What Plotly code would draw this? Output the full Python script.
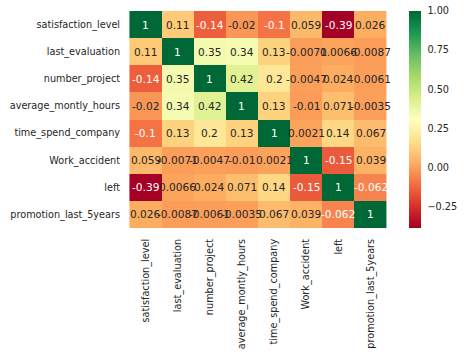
import plotly.graph_objects as go
import numpy as np

labels = ["satisfaction_level", "last_evaluation", "number_project",
          "average_montly_hours", "time_spend_company", "Work_accident",
          "left", "promotion_last_5years"]

row_satisfaction = [1.0, 0.105021, -0.142970, -0.020048, -0.100866, 0.058697, -0.388375, 0.025605]
row_evaluation = [0.105021, 1.0, 0.349333, 0.339742, 0.131591, -0.007104, 0.006567, -0.008684]
row_project = [-0.142970, 0.349333, 1.0, 0.417211, 0.196786, -0.004741, 0.023787, -0.006064]
row_hours = [-0.020048, 0.339742, 0.417211, 1.0, 0.127755, -0.010143, 0.071287, -0.003544]
row_time = [-0.100866, 0.131591, 0.196786, 0.127755, 1.0, 0.002120, 0.144822, 0.067433]
row_accident = [0.058697, -0.007104, -0.004741, -0.010143, 0.002120, 1.0, -0.154622, 0.039245]
row_left = [-0.388375, 0.006567, 0.023787, 0.071287, 0.144822, -0.154622, 1.0, -0.061788]
row_promotion = [0.025605, -0.008684, -0.006064, -0.003544, 0.067433, 0.039245, -0.061788, 1.0]

z = [row_satisfaction, row_evaluation, row_project, row_hours,
     row_time, row_accident, row_left, row_promotion]

cbar_vals = [-0.25, 0.0, 0.25, 0.5, 0.75, 0.9999]
cbar_text = ["\u22120.25", "0.00", "0.25", "0.50", "0.75", "1.00"]

rdylgn = [(165,0,38),(215,48,39),(244,109,67),(253,174,97),(254,224,139),
          (255,255,191),(217,239,139),(166,217,106),(102,189,99),(26,152,80),(0,104,55)]

zarr = np.array(z)
zmin, zmax = zarr.min(), 1.0

def color_at(v):
    t = (v - zmin) / (zmax - zmin) * (len(rdylgn) - 1)
    i = int(min(max(np.floor(t), 0), len(rdylgn) - 2))
    f = t - i
    c0, c1 = np.array(rdylgn[i]), np.array(rdylgn[i+1])
    return (c0 + (c1 - c0) * f) / 255.0

def lum(rgb):
    r = np.where(rgb <= 0.03928, rgb / 12.92, ((rgb + 0.055) / 1.055) ** 2.4)
    return 0.2126 * r[0] + 0.7152 * r[1] + 0.0722 * r[2]

FONT = "DejaVu Sans"
TICK_SIZE = 9.7
ANNOT_SIZE = 10.6

fig = go.Figure()
fig.add_trace(go.Heatmap(
    z=z, x=labels, y=labels, zmin=zmin, zmax=zmax,
    colorscale="RdYlGn",
    colorbar=dict(thickness=12, len=1, lenmode="fraction", y=0.5, yanchor="middle",
                  x=1.06, xanchor="left", outlinewidth=0, xpad=0, ypad=0,
                  tickvals=cbar_vals, ticktext=cbar_text, ticklabeloverflow="allow",
                  ticks="outside", ticklen=5, tickcolor="rgba(0,0,0,0)",
                  tickfont=dict(family=FONT, size=TICK_SIZE, color="#262626")),
    hoverinfo="skip",
))

annotations = []
for i, row in enumerate(z):
    for j, v in enumerate(row):
        col = "white" if lum(color_at(v)) <= 0.408 else "#262626"
        annotations.append(dict(x=labels[j], y=labels[i], text=format(v, ".2g"),
                                showarrow=False,
                                font=dict(family=FONT, size=ANNOT_SIZE, color=col)))

fig.update_layout(
    width=468, height=356,
    margin=dict(l=128, r=72, t=11, b=128),
    paper_bgcolor="white", plot_bgcolor="white",
    annotations=annotations,
    xaxis=dict(tickangle=-90, ticks="outside", ticklen=6, tickcolor="rgba(0,0,0,0)",
               tickfont=dict(family=FONT, size=TICK_SIZE, color="#262626"),
               showgrid=False, zeroline=False, automargin=False),
    yaxis=dict(autorange="reversed", ticks="outside", ticklen=5, tickcolor="rgba(0,0,0,0)",
               tickfont=dict(family=FONT, size=TICK_SIZE, color="#262626"),
               showgrid=False, zeroline=False, automargin=False),
)

fig.write_html("out.html", config={"displayModeBar": False},
               post_script="document.body.style.margin='0px';")
